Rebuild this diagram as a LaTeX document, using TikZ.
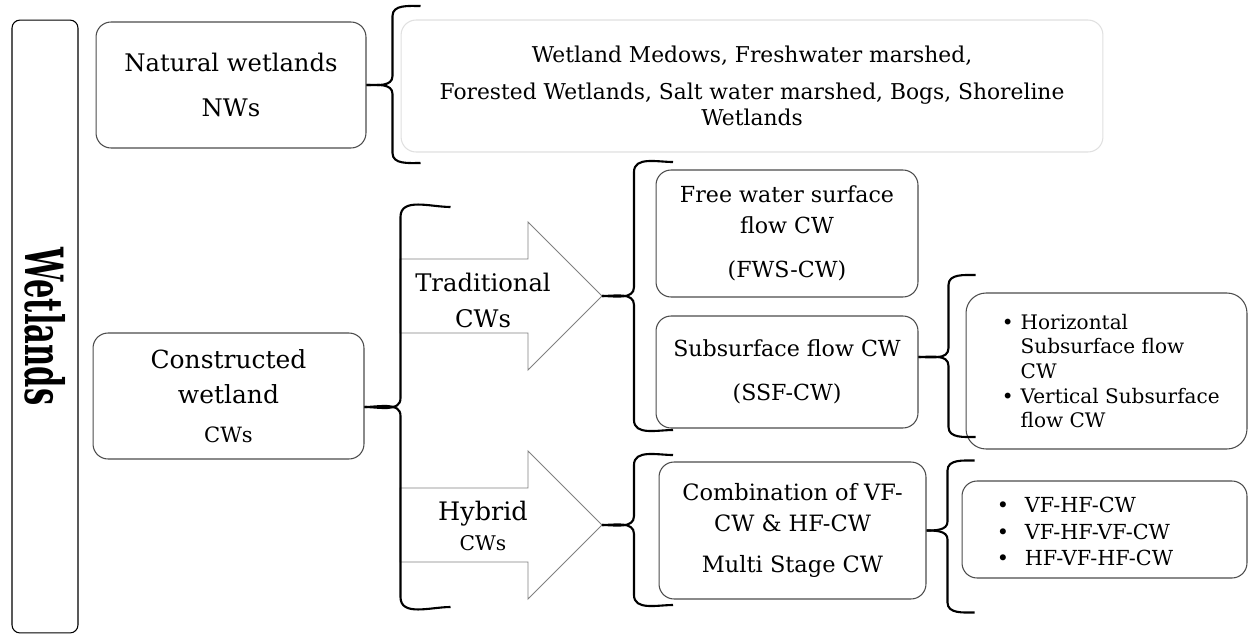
\documentclass[tikz,border=0pt]{standalone}
\usepackage{fontspec}
\setmainfont{DejaVu Serif}
\usetikzlibrary{positioning}
\newcommand{\wsize}[2]{\fontsize{#1}{#2}\selectfont}
% brace with its tip at #1, spine at #2 to the right, #3 up, #4 down, curls of #5
\newcommand{\wetbrace}[5]{%
  \draw[brace line] (#1) to[out=0,in=-90] ++(#2,9) -- ++(0,#3-19) to[out=90,in=180] ++(#5,10);
  \draw[brace line] (#1) to[out=0,in=90] ++(#2,-9) -- ++(0,-#4+19) to[out=-90,in=180] ++(#5,-10);
}

\begin{document}
\begin{tikzpicture}[
                x = 0.02cm, y = 0.02cm, % one unit = one pixel
                font = \wsize{12}{14},
                wetbox/.style = {draw=black!70, line width=0.6pt, fill=white,
                                 rounded corners=0.3cm, align=center, inner sep=2pt},
                brace line/.style = {draw=black, line width=1.2pt},
                block arrow/.style = {draw=black!50, line width=0.5pt, fill=white},
                listtext/.style = {anchor=west, inner sep=0pt, align=left}
                ]
                \useasboundingbox (0,0) rectangle (1248,-636);

                % left column
                \node[wetbox, draw=black, rotate=-90, rounded corners=0.16cm,
                      minimum width=12.26cm, minimum height=1.32cm,
                      font=\wsize{30}{32}\bfseries] (wet) at (45,-326.5)
                      {\scalebox{0.58}[1]{Wetlands}};
                \node[wetbox, minimum width=5.4cm, minimum height=2.52cm,
                      font=\wsize{13.8}{16}] (nw) at (231,-85) {Natural wetlands\\[10pt]NWs};
                \node[wetbox, minimum width=5.42cm, minimum height=2.52cm,
                      font=\wsize{14.2}{20}] (cw) at (228.5,-396)
                      {Constructed\\wetland\\[2pt]{\wsize{12}{12}CWs}};

                % kinds of natural wetlands
                \node[wetbox, draw=black!12, minimum width=14.04cm, minimum height=2.64cm,
                      font=\wsize{12.4}{15}] (nwkinds) at (752,-86)
                      {Wetland Medows, Freshwater marshed,\\[6pt]
                       Forested Wetlands, Salt water marshed, Bogs, Shoreline\\Wetlands};

                % block arrows
                \draw[block arrow] (400,-259) -- (528,-259) -- (528,-222) -- (602,-296)
                    -- (528,-370) -- (528,-333) -- (400,-333) -- cycle;
                \coordinate (tradtip) at (602,-296);
                \node[align=center, font=\wsize{13.8}{20.5}] (trad) at (483,-300) {Traditional\\CWs};

                \draw[block arrow] (400,-488) -- (528,-488) -- (528,-451) -- (602,-525)
                    -- (528,-599) -- (528,-562) -- (400,-562) -- cycle;
                \coordinate (hybtip) at (602,-525);
                \node[align=center, font=\wsize{14.5}{17.5}] (hyb) at (483,-526)
                      {Hybrid\\{\wsize{11.5}{11}CWs}};

                % constructed wetland types
                \node[wetbox, minimum width=5.24cm, minimum height=2.54cm,
                      font=\wsize{12.6}{17.5}] (fws) at (787,-233.5)
                      {Free water surface\\flow CW\\[7.5pt](FWS-CW)};
                \node[wetbox, minimum width=5.24cm, minimum height=2.24cm,
                      font=\wsize{12.6}{17.5}] (ssf) at (787,-372)
                      {Subsurface flow CW\\[7.5pt](SSF-CW)};
                \node[wetbox, minimum width=5.34cm, minimum height=2.74cm,
                      font=\wsize{12.8}{17.5}] (comb) at (792.5,-530.5)
                      {Combination of VF-\\CW \& HF-CW\\[6pt]Multi Stage CW};

                % sub types
                \node[wetbox, rounded corners=0.4cm, minimum width=5.62cm,
                      minimum height=3.12cm] (hssf) at (1106.5,-371) {};
                \node[listtext, font=\wsize{11.4}{14}] (hssflist)
                      at ([xshift=0.72cm, yshift=-0.05cm]hssf.west)
                      {\begin{tabular}{@{}l@{\hspace{4pt}}l@{}}
                       • & Horizontal\\ & Subsurface flow\\ & CW\\
                       • & Vertical Subsurface\\ & flow CW
                       \end{tabular}};
                \node[wetbox, minimum width=5.7cm, minimum height=1.94cm] (vfhf) at (1104.5,-529.5) {};
                \node[listtext, font=\wsize{11.8}{15}] (vfhflist)
                      at ([xshift=0.7cm, yshift=-0.09cm]vfhf.west)
                      {\begin{tabular}{@{}l@{\hspace{9pt}}l@{}}
                       • & VF-HF-CW\\ • & VF-HF-VF-CW\\ • & HF-VF-HF-CW
                       \end{tabular}};

                % braces
                \wetbrace{nw.east}{26}{79}{78}{28}
                \wetbrace{[yshift=-0.22cm]cw.east}{36}{200}{200}{50}
                \wetbrace{tradtip}{32}{134}{134}{39}
                \wetbrace{[yshift=0.3cm]ssf.east}{30}{82}{80}{27}
                \wetbrace{hybtip}{32}{70}{80}{39}
                \wetbrace{comb.east}{21}{70}{82}{27}
            \end{tikzpicture}
\end{document}
